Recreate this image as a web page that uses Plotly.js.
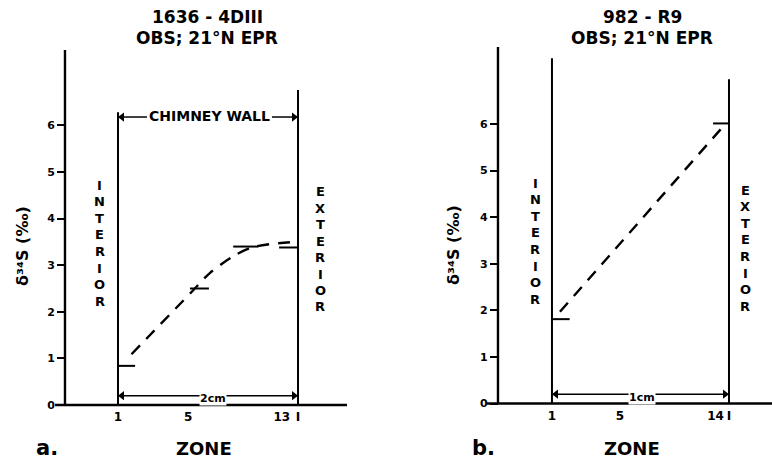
<!DOCTYPE html>
<html><head><meta charset="utf-8">
<script src="https://cdn.plot.ly/plotly-3.0.1.min.js"></script>
<style>html,body{margin:0;padding:0;background:#fff}#c{width:772px;height:461px}</style>
</head><body><div id="c"></div>
<script>
// ---- data (x in cm from the interior wall, y = δ34S ‰) ----
const yTicks = [0, 1, 2, 3, 4, 5, 6];
const zoneTickTextA = ["1", "5", "13", "I"];
const zoneTickCmA = [0, 0.78, 1.82, 2.0];
const zoneTickTextB = ["1", "5", "14", "I"];
const zoneTickCmB = [0, 0.384, 0.924, 1.0];

const barsA_y = [0.84, 2.50, 3.40, 3.38];
const barsA_x0 = [0, 0.80, 1.28, 1.79];
const barsA_x1 = [0.19, 1.01, 1.56, 1.99];
const curveA_x = [0.15, 0.82, 1.02, 1.28, 1.50, 1.95];
const curveA_y = [1.09, 2.43, 2.83, 3.19, 3.39, 3.50];

const barsB_y = [1.81, 6.01];
const barsB_x0 = [0, 0.91];
const barsB_x1 = [0.10, 1.0];
const lineB_x = [0.045, 0.966];
const lineB_y = [1.97, 5.94];

const wallsA_x = [0, 2.0];
const wallsA_top = [6.28, 6.76];
const wallsB_x = [0, 1.0];
const wallsB_top = [7.41, 6.96];
const axisA = {x: -0.589, top: 7.62, base0: -0.70, base1: 2.544};
const axisB = {x: -0.305, top: 7.65, base0: -0.369, base1: 1.30};
const chimneyLabel = "CHIMNEY WALL";
const chimneyY = 6.18, chimneyGapA = [0.322, 1.711];
const widthLabelA = "2cm", widthLabelB = "1cm";
const widthY = 0.2;
const interiorWord = "INTERIOR", exteriorWord = "EXTERIOR";
const yTitle = "δ³⁴S (‰)";

// ---- geometry ----
const W = 772, H = 461;
const xRangeA = [-1.311, 3.022], xDomA = [0, 390 / W];
const xRangeB = [-0.915, 1.243], xDomB = [390 / W, 1];
const yRangeA = [-(H - 405) / 46.6, 405 / 46.6];
const yRangeB = [-(H - 403.5) / 46.6, 403.5 / 46.6];
const pxPerCmA = 90, pxPerCmB = 177;
function posX(v, r, d) { return d[0] + (v - r[0]) / (r[1] - r[0]) * (d[1] - d[0]); }
function posY(v, r) { return (v - r[0]) / (r[1] - r[0]); }
const FF = "DejaVu Sans";

function segs(x0s, x1s, ys) {
  const x = [], y = [];
  for (let i = 0; i < ys.length; i++) { x.push(x0s[i], x1s[i], null); y.push(ys[i], ys[i], null); }
  return {x, y};
}
function vsegs(xs, tops) {
  const x = [], y = [];
  for (let i = 0; i < xs.length; i++) { x.push(xs[i], xs[i], null); y.push(0, tops[i], null); }
  return {x, y};
}
const blk = "#000";
const traces = [];
function panel(xa, ya, bars, curve, walls, ax, spline) {
  const b = segs(bars.x0, bars.x1, bars.y);
  traces.push({x: b.x, y: b.y, xaxis: xa, yaxis: ya, mode: "lines", line: {color: blk, width: 2}, hoverinfo: "skip"});
  traces.push({x: curve.x, y: curve.y, xaxis: xa, yaxis: ya, mode: "lines",
    line: {color: blk, width: 2.4, dash: "12px,9px", shape: spline ? "spline" : "linear", smoothing: 0.8}, hoverinfo: "skip"});
  const w = vsegs(walls.x, walls.top);
  traces.push({x: w.x, y: w.y, xaxis: xa, yaxis: ya, mode: "lines", line: {color: blk, width: 2}, hoverinfo: "skip"});
  traces.push({x: [ax.x, ax.x, null, ax.base0, ax.base1], y: [0, ax.top, null, 0, 0], xaxis: xa, yaxis: ya,
    mode: "lines", line: {color: blk, width: 2.4}, hoverinfo: "skip"});
}
// double-headed dimension arrow: line segments + triangle heads
function dimArrow(xa, ya, x0, x1, y, gap, pxPerCm) {
  const off = 4 / pxPerCm;
  const xs = gap ? [x0, gap[0], null, gap[1], x1] : [x0, x1];
  const ys = gap ? [y, y, null, y, y] : [y, y];
  traces.push({x: xs, y: ys, xaxis: xa, yaxis: ya, mode: "lines", line: {color: blk, width: 1.5}, hoverinfo: "skip"});
  traces.push({x: [x0 + off, x1 - off], y: [y, y], xaxis: xa, yaxis: ya, mode: "markers",
    marker: {symbol: ["triangle-left", "triangle-right"], size: 8, color: blk, line: {width: 0}}, hoverinfo: "skip"});
}
panel("x", "y", {x0: barsA_x0, x1: barsA_x1, y: barsA_y}, {x: curveA_x, y: curveA_y},
  {x: wallsA_x, top: wallsA_top}, axisA, true);
panel("x2", "y2", {x0: barsB_x0, x1: barsB_x1, y: barsB_y}, {x: lineB_x, y: lineB_y},
  {x: wallsB_x, top: wallsB_top}, axisB, false);
dimArrow("x", "y", wallsA_x[0], wallsA_x[1], chimneyY, chimneyGapA, pxPerCmA);
dimArrow("x", "y", wallsA_x[0], wallsA_x[1], widthY, null, pxPerCmA);
dimArrow("x2", "y2", wallsB_x[0], wallsB_x[1], widthY, null, pxPerCmB);

function xax(dom, rng, vals, txt, yr) {
  return {domain: dom, range: rng, anchor: "free", position: posY(0, yr), showgrid: false, zeroline: false,
    showline: false, ticks: "", tickvals: vals, ticktext: txt, ticklabelstandoff: 3,
    tickfont: {family: FF, size: 12, weight: "bold", color: blk}, fixedrange: true};
}
function yax(rng, xpos) {
  return {domain: [0, 1], range: rng, anchor: "free", position: xpos, showgrid: false, zeroline: false,
    showline: false, ticks: "outside", ticklen: 8, tickwidth: 2, tickcolor: blk, tickvals: yTicks,
    tickfont: {family: FF, size: 11, weight: "bold", color: blk}, fixedrange: true};
}
const ann = [];
function txt(x, y, text, size, extra) {
  ann.push(Object.assign({xref: "paper", yref: "paper", x: x / W, y: 1 - y / H, text: text, showarrow: false,
    xanchor: "center", yanchor: "middle", font: {family: FF, size: size, weight: "bold", color: blk}}, extra || {}));
}
function stacked(x, yTop, word, size, step) {
  for (let i = 0; i < word.length; i++) txt(x, yTop + i * step, word[i], size);
}
// titles
txt(207, 17, "1636 - 4DIII", 17);
txt(207, 38, "OBS; 21°N EPR", 17);
txt(642, 17, "982 - R9", 17);
txt(642, 38, "OBS; 21°N EPR", 17);
// y titles
txt(23, 246, yTitle, 16, {textangle: -90});
txt(453, 245, yTitle, 16, {textangle: -90});
// zone + panel letters
txt(204, 448, "ZONE", 18);
txt(632, 448, "ZONE", 18);
txt(47, 448, "a.", 21);
txt(483, 448, "b.", 21);
// interior / exterior (stacked letters)
stacked(100, 185, interiorWord, 13, 16.6);
stacked(320, 192, exteriorWord, 13, 16.4);
stacked(535, 183, interiorWord, 13, 16.6);
stacked(745, 190, exteriorWord, 13, 16.6);
// labels on the dimension arrows
txt(209.5, 116, chimneyLabel, 14);
txt(213, 398, widthLabelA, 11, {bgcolor: "#fff", borderpad: 0});
txt(642, 397, widthLabelB, 11, {bgcolor: "#fff", borderpad: 0});

const layout = {
  width: W, height: H, margin: {l: 0, r: 0, t: 0, b: 0}, showlegend: false,
  paper_bgcolor: "#fff", plot_bgcolor: "rgba(0,0,0,0)",
  xaxis: xax(xDomA, xRangeA, zoneTickCmA, zoneTickTextA, yRangeA),
  yaxis: yax(yRangeA, posX(axisA.x, xRangeA, xDomA)),
  xaxis2: xax(xDomB, xRangeB, zoneTickCmB, zoneTickTextB, yRangeB),
  yaxis2: yax(yRangeB, posX(axisB.x, xRangeB, xDomB)),
  annotations: ann
};
Plotly.newPlot("c", traces, layout, {staticPlot: true, displayModeBar: false});
</script></body></html>
